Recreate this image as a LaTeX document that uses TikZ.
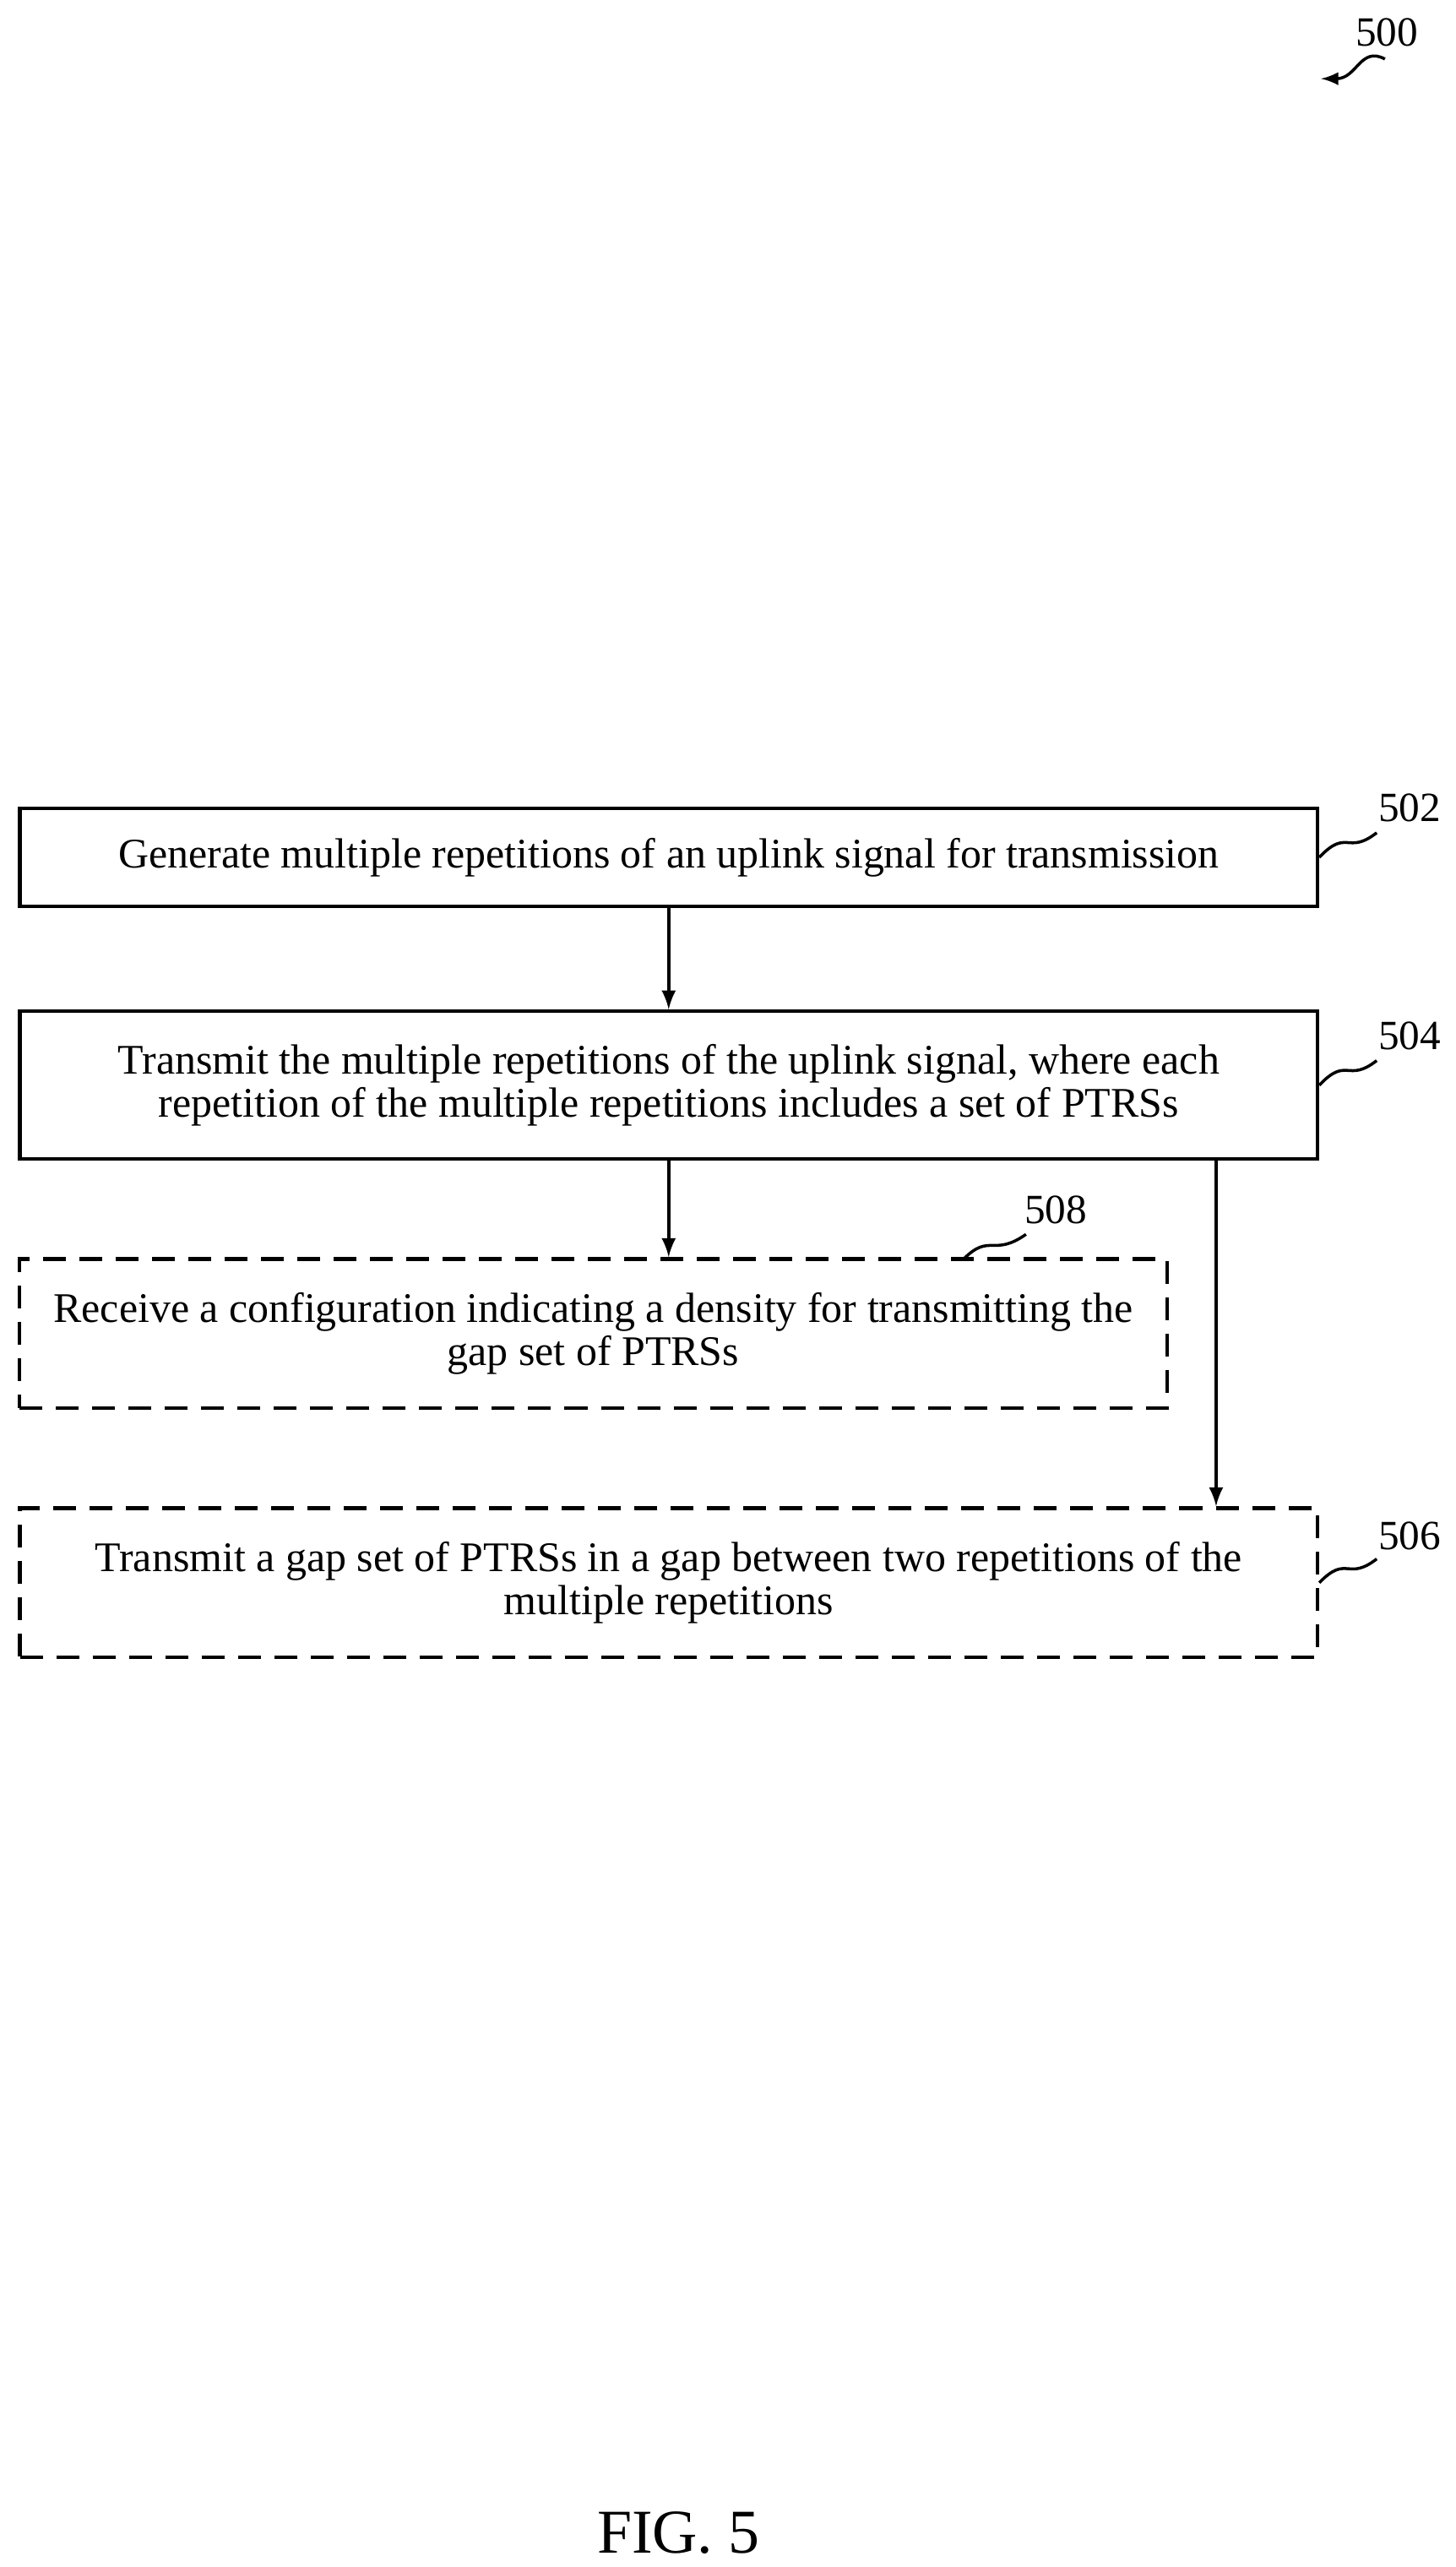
\documentclass[tikz,border=0pt]{standalone}
\usepackage{fontspec}
\setmainfont{Liberation Serif}
\usetikzlibrary{arrows,positioning}
\tikzset{>=latex, font=\fontsize{14.2}{14.6}\selectfont}
\tikzstyle{block} = [draw, rectangle, minimum width=153.6mm, align=center, inner sep=0pt]
\tikzstyle{opt} = [block, dash pattern=on 2.7mm off 1.6mm]
\tikzstyle{tag} = [font=\fontsize{14}{14}\selectfont, anchor=west]

\begin{document}
\begin{tikzpicture}[x=0.194mm, y=-0.194mm, line width=1.2pt]
		\useasboundingbox (0,0) rectangle (888,1566);
		\node [block, minimum height=11.64mm] (gen) at (408,523) {Generate multiple repetitions of an uplink signal for transmission};
		\node [block, minimum height=17.5mm] (tx) at (408,662) {Transmit the multiple repetitions of the uplink signal, where each\\repetition of the multiple repetitions includes a set of PTRSs};
		\node [opt, minimum width=135.8mm, minimum height=17.65mm] (cfg) at (362,813.5) {Receive a configuration indicating a density for transmitting the\\gap set of PTRSs};
		\node [opt, minimum height=17.65mm] (gap) at (408,965.5) {Transmit a gap set of PTRSs in a gap between two repetitions of the\\multiple repetitions};
		\coordinate (tap) at (742,707);

		\draw [->] (gen) -- (tx);
		\draw [->] (tx.south) -- (tx.south |- cfg.north);
		\draw [->] (tap) -- (tap |- gap.north);

		% reference numerals
		\node [tag] (n500) at (820,20) {500};
		\node [tag] (n502) at (834,493) {502};
		\node [tag] (n504) at (834,632) {504};
		\node [tag] (n508) at (618,738) {508};
		\node [tag] (n506) at (834,937) {506};
		\draw [->, line width=1pt] (845,36) .. controls (830,28) and (828,48) .. (806,48);
		\draw [line width=1pt] (gen.east) .. controls (822,505) and (822,522) .. (840,508);
		\draw [line width=1pt] (tx.east) .. controls (822,644) and (822,661) .. (840,647);
		\draw [line width=1pt] (588,768) .. controls (604,752) and (606,767) .. (626,753);
		\draw [line width=1pt] (gap.east) .. controls (822,948) and (822,965) .. (840,951);

		\node [font=\fontsize{21}{21}\selectfont] (fig) at (414,1545) {FIG. 5};
	\end{tikzpicture}
\end{document}
